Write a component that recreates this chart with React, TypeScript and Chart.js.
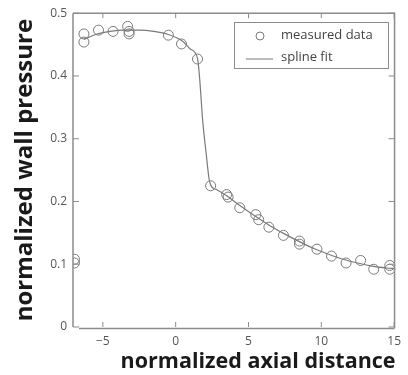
import React, { useEffect, useRef } from "react";
import { Chart, registerables } from "chart.js";

Chart.register(...registerables);

const measuredX = [-6.95, -6.95, -6.3, -6.3, -5.3, -4.3, -3.3, -3.2, -3.2, -0.5, 0.4, 1.5, 2.4, 3.5, 3.6, 4.4, 5.5, 5.7, 6.4, 7.4, 8.5, 8.5, 9.7, 10.7, 11.7, 12.7, 13.6, 14.7, 14.7];
const measuredY = [0.108, 0.102, 0.467, 0.454, 0.473, 0.471, 0.479, 0.471, 0.467, 0.465, 0.451, 0.427, 0.225, 0.211, 0.207, 0.19, 0.179, 0.171, 0.159, 0.146, 0.137, 0.132, 0.124, 0.113, 0.102, 0.106, 0.092, 0.098, 0.092];

const splineX = [-6.3, -5.5, -4.5, -3.5, -2.5, -1.5, -0.5, 0.5, 1.0, 1.5, 1.65, 1.85, 2.1, 2.3, 2.45, 2.8, 3.5, 4.5, 5.5, 6.5, 7.5, 8.5, 9.5, 10.5, 11.5, 12.5, 13.5, 14.5, 15];
const splineY = [0.458, 0.466, 0.471, 0.473, 0.473, 0.471, 0.466, 0.455, 0.443, 0.428, 0.395, 0.33, 0.275, 0.235, 0.224, 0.219, 0.209, 0.192, 0.176, 0.161, 0.148, 0.136, 0.125, 0.116, 0.108, 0.102, 0.097, 0.094, 0.093];

const xTicks = [-5, 0, 5, 10, 15];
const yTicks = [0, 0.1, 0.2, 0.3, 0.4, 0.5];
const legendLabels = ["measured data", "spline fit"];
const xTitle = "normalized axial distance";
const yTitle = "normalized wall pressure";

const AXIS = "#8c8c8c";
const MARK = "#7a7a7a";

const framePlugin = {
  id: "frame",
  afterDraw(chart: any) {
    const { ctx, chartArea: a, scales } = chart;
    const xs = scales.x;
    const ys = scales.y;
    ctx.save();
    ctx.strokeStyle = AXIS;
    ctx.lineWidth = 1.5;
    ctx.beginPath();
    ctx.moveTo(a.left, a.top);
    ctx.lineTo(a.right, a.top);
    ctx.lineTo(a.right, a.bottom + 1);
    ctx.moveTo(a.left, a.top);
    ctx.lineTo(a.left, a.bottom);
    ctx.moveTo(a.left + 6, a.bottom + 1.5);
    ctx.lineTo(a.right, a.bottom + 1.5);
    ctx.stroke();
    ctx.lineWidth = 1;
    ctx.beginPath();
    xTicks.forEach((v) => {
      const px = xs.getPixelForValue(v);
      ctx.moveTo(px, a.bottom);
      ctx.lineTo(px, a.bottom - 5);
      ctx.moveTo(px, a.top);
      ctx.lineTo(px, a.top + 5);
    });
    yTicks.forEach((v) => {
      const py = ys.getPixelForValue(v);
      ctx.moveTo(a.left, py);
      ctx.lineTo(a.left + 6, py);
      ctx.moveTo(a.right, py);
      ctx.lineTo(a.right - 6, py);
    });
    ctx.stroke();

    // x axis title
    ctx.fillStyle = "#1a1a1a";
    ctx.font = "bold 21.5px 'Open Sans', sans-serif";
    ctx.textAlign = "right";
    ctx.textBaseline = "alphabetic";
    ctx.fillText(xTitle, a.right + 1, 368);

    // legend
    const bx = 234, by = 22, bw = 154, bh = 46;
    ctx.fillStyle = "#fff";
    ctx.fillRect(bx, by, bw, bh);
    ctx.strokeStyle = AXIS;
    ctx.lineWidth = 1;
    ctx.strokeRect(bx + 0.5, by + 0.5, bw, bh);
    ctx.strokeStyle = MARK;
    ctx.beginPath();
    ctx.arc(260, 36, 4, 0, Math.PI * 2);
    ctx.stroke();
    ctx.beginPath();
    ctx.moveTo(246, 59);
    ctx.lineTo(273, 59);
    ctx.stroke();
    ctx.fillStyle = "#444";
    ctx.font = "13px 'Open Sans', sans-serif";
    ctx.textAlign = "left";
    ctx.textBaseline = "middle";
    ctx.fillText(legendLabels[0], 281, 35);
    ctx.fillText(legendLabels[1], 281, 57);
    ctx.restore();
  },
};

export default function App() {
  const ref = useRef<HTMLCanvasElement>(null);
  useEffect(() => {
    const chart = new Chart(ref.current!, {
      type: "scatter",
      data: {
        datasets: [
          {
            type: "line",
            label: legendLabels[1],
            data: splineX.map((x, i) => ({ x, y: splineY[i] })),
            borderColor: MARK,
            borderWidth: 1.2,
            pointRadius: 0,
            cubicInterpolationMode: "monotone",
            fill: false,
          },
          {
            type: "scatter",
            label: legendLabels[0],
            data: measuredX.map((x, i) => ({ x, y: measuredY[i] })),
            borderColor: MARK,
            backgroundColor: "rgba(0,0,0,0)",
            borderWidth: 1,
            pointRadius: 5,
            clip: { left: 0, top: 10, right: 10, bottom: 10 },
          },
        ],
      },
      options: {
        animation: false,
        responsive: false,
        layout: { padding: { top: 12, right: 7, left: 0, bottom: 0 } },
        plugins: { legend: { display: false }, tooltip: { enabled: false } },
        scales: {
          x: {
            type: "linear",
            min: -7.05,
            max: 15.03,
            grid: { display: false, drawTicks: false },
            border: { display: false },
            afterBuildTicks: (s: any) => {
              s.ticks = xTicks.map((v) => ({ value: v }));
            },
            afterFit: (s: any) => {
              s.height = 48;
            },
            ticks: {
              color: "#555",
              padding: 7,
              font: { family: "'Open Sans', sans-serif", size: 12 },
              callback: (v: any) => (v < 0 ? "\u2212" + Math.abs(v) : String(v)),
            },
          },
          y: {
            type: "linear",
            min: 0,
            max: 0.5,
            grid: { display: false, drawTicks: false },
            border: { display: false },
            afterBuildTicks: (s: any) => {
              s.ticks = yTicks.map((v) => ({ value: v }));
            },
            afterFit: (s: any) => {
              s.width = 73;
            },
            ticks: {
              color: "#555",
              padding: 6,
              font: { family: "'Open Sans', sans-serif", size: 12 },
              callback: (v: any) => String(v),
            },
            title: {
              display: true,
              text: yTitle,
              color: "#1a1a1a",
              font: { family: "'Open Sans', sans-serif", size: 24, weight: "bold" },
              padding: { top: 11, bottom: 0 },
            },
          },
        },
      },
      plugins: [framePlugin],
    } as any);
    return () => chart.destroy();
  }, []);
  return (
    <div style={{ position: "fixed", left: 0, top: 0, width: 408, height: 375, background: "#fff" }}>
      <canvas ref={ref} width={408} height={375} style={{ width: 408, height: 375 }} />
    </div>
  );
}
